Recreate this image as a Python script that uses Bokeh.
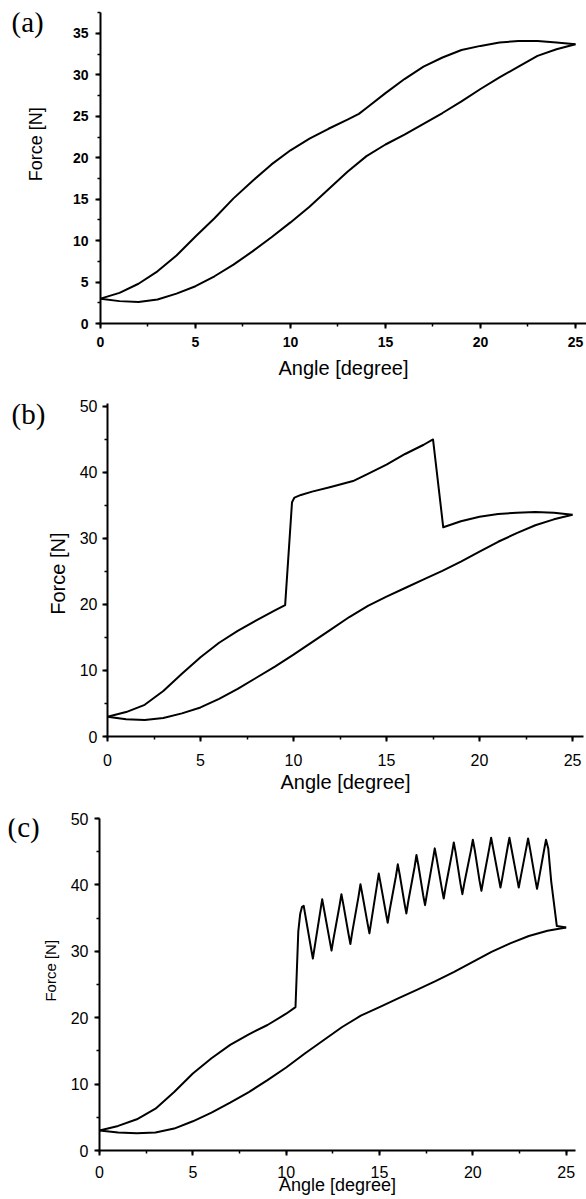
import math
from bokeh.plotting import figure
from bokeh.layouts import column, row
from bokeh.models import SingleIntervalTicker, Range1d
from bokeh.embed import file_html
from bokeh.resources import INLINE
from bokeh.core.properties import value

# ---------------- data ----------------
# (a)
a_up_x = [0, 1, 2, 3, 4, 5, 6, 7, 8, 9, 10, 11, 12, 13, 13.6, 14, 15, 16, 17, 18, 19, 20, 21, 22, 23, 24, 25]
a_up_y = [3.0, 3.7, 4.8, 6.3, 8.2, 10.5, 12.7, 15.1, 17.2, 19.2, 20.9, 22.3, 23.5, 24.6, 25.3, 26.0, 27.8, 29.5,
          31.0, 32.1, 33.0, 33.5, 33.9, 34.1, 34.1, 33.9, 33.7]
a_lo_x = [0, 1, 2, 3, 4, 5, 6, 7, 8, 9, 10, 11, 12, 13, 14, 15, 16, 17, 18, 19, 20, 21, 22, 23, 24, 25]
a_lo_y = [3.0, 2.7, 2.6, 2.9, 3.6, 4.5, 5.7, 7.1, 8.7, 10.4, 12.2, 14.1, 16.2, 18.3, 20.2, 21.6, 22.8, 24.1,
          25.4, 26.8, 28.3, 29.7, 31.0, 32.3, 33.1, 33.7]

# (b)
b_up_x = [0, 1, 2, 3, 4, 5, 6, 7, 8, 9, 9.55, 9.92, 10.05, 10.4, 11, 12, 13.2, 14, 15, 16, 17, 17.5,
          18.05, 19, 20, 21, 22, 23, 24, 25]
b_up_y = [3.0, 3.7, 4.8, 6.9, 9.5, 12.0, 14.2, 16.0, 17.6, 19.1, 19.9, 35.5, 36.2, 36.6, 37.1, 37.8, 38.7,
          39.8, 41.2, 42.8, 44.2, 45.0, 31.7, 32.6, 33.3, 33.7, 33.9, 34.0, 33.9, 33.6]
b_lo_x = [0, 1, 2, 3, 4, 5, 6, 7, 8, 9, 10, 11, 12, 13, 14, 15, 16, 17, 18, 19, 20, 21, 22, 23, 24, 25]
b_lo_y = [3.0, 2.6, 2.5, 2.8, 3.5, 4.4, 5.7, 7.2, 8.9, 10.6, 12.4, 14.3, 16.2, 18.1, 19.8, 21.2, 22.5, 23.8,
          25.1, 26.5, 28.0, 29.5, 30.8, 32.0, 32.9, 33.6]

# (c)
c_up_x = [0, 1, 2, 3, 4, 5, 6, 7, 8, 9, 10, 10.5, 10.65, 10.75, 10.85, 10.94,
          11.04, 11.33, 11.43, 11.53, 11.83, 11.93, 12.03, 12.33, 12.43, 12.53, 12.86, 12.96,
          13.06, 13.34, 13.44, 13.54, 13.88, 13.98, 14.08, 14.36, 14.46, 14.56, 14.86, 14.96,
          15.06, 15.34, 15.44, 15.54, 15.88, 15.98, 16.08, 16.34, 16.44, 16.54, 16.88, 16.98,
          17.08, 17.34, 17.44, 17.54, 17.86, 17.96, 18.06, 18.34, 18.44, 18.54, 18.88, 18.98,
          19.08, 19.34, 19.44, 19.54, 19.90, 20.00, 20.10, 20.36, 20.46, 20.56, 20.88, 20.98,
          21.08, 21.38, 21.48, 21.58, 21.86, 21.96, 22.06, 22.36, 22.46, 22.56, 22.86, 22.96,
          23.06, 23.34, 23.44, 23.54, 23.82, 23.92, 24.04, 24.2, 24.5, 25.0]
c_up_y = [3.0, 3.7, 4.7, 6.3, 8.8, 11.6, 13.9, 15.9, 17.5, 18.9, 20.6, 21.6, 33.0, 35.6, 36.7, 36.85,
          35.2, 30.5, 28.9, 30.7, 36.05, 37.85, 36.3, 31.65, 30.1, 31.8, 36.9, 38.6,
          37.1, 32.6, 31.1, 32.9, 38.3, 40.1, 38.6, 34.2, 32.7, 34.5, 39.9, 41.7,
          40.2, 35.8, 34.3, 36.1, 41.3, 43.1, 41.6, 37.2, 35.7, 37.5, 42.7, 44.5,
          43.0, 38.45, 36.95, 38.65, 43.8, 45.5, 44.0, 39.45, 37.95, 39.65, 44.7, 46.4,
          44.85, 40.15, 38.6, 40.2, 45.2, 46.8, 45.3, 40.6, 39.1, 40.7, 45.5, 47.1,
          45.6, 41.1, 39.6, 41.1, 45.6, 47.1, 45.6, 41.1, 39.6, 41.1, 45.5, 47.0,
          45.5, 40.9, 39.4, 40.9, 45.3, 46.8, 45.5, 40.5, 33.8, 33.6]
c_lo_x = [0, 1, 2, 3, 4, 5, 6, 7, 8, 9, 10, 11, 12, 13, 14, 15, 16, 17, 18, 19, 20, 21, 22, 23, 24, 25]
c_lo_y = [3.0, 2.7, 2.6, 2.7, 3.3, 4.4, 5.7, 7.2, 8.8, 10.6, 12.5, 14.6, 16.6, 18.6, 20.3, 21.6, 22.9, 24.2,
          25.5, 26.9, 28.4, 29.9, 31.2, 32.3, 33.1, 33.6]

panel_tags = ["(a)", "(b)", "(c)"]
x_title = "Angle [degree]"
y_title = "Force [N]"

SANS = "Liberation Sans"
SERIF = "Liberation Serif"


def make_gutter(width, height, tag_text, tag_left, tag_mid, ytitle_cx, ytitle_cy, ytitle_size):
    """Narrow left strip holding the panel tag and the vertical y title (pixel coordinates, top-down)."""
    g = figure(width=width, height=height, x_range=Range1d(0, width), y_range=Range1d(0, height),
               x_axis_type=None, y_axis_type=None, output_backend="svg", toolbar_location=None,
               min_border=0, min_border_left=0, min_border_right=0, min_border_top=0, min_border_bottom=0)
    g.outline_line_color = None
    g.xgrid.visible = False
    g.ygrid.visible = False
    g.background_fill_color = "white"
    g.border_fill_color = "white"
    g.text(x=[tag_left], y=[height - tag_mid], text=[tag_text],
           text_font=value(SERIF), text_font_size="29px", text_color="black",
           text_align="left", text_baseline="middle")
    g.text(x=[ytitle_cx], y=[height - ytitle_cy], text=[y_title], angle=math.pi / 2,
           text_font=value(SANS), text_font_size=f"{ytitle_size}px", text_color="black",
           text_align="center", text_baseline="middle")
    return g


def make_panel(width, height, x_end, y_end, y_step, b_left, b_right, b_top, b_bottom,
               tick_size, tick_bold, xlab_size, xl_stand, xt_stand, yt_stand):
    p = figure(width=width, height=height,
               x_range=Range1d(0, x_end), y_range=Range1d(0, y_end),
               output_backend="svg", toolbar_location=None,
               min_border_left=b_left, min_border_right=b_right,
               min_border_top=b_top, min_border_bottom=b_bottom)
    p.xgrid.visible = False
    p.ygrid.visible = False
    p.outline_line_color = None
    p.background_fill_color = "white"
    p.border_fill_color = "white"

    p.xaxis.ticker = SingleIntervalTicker(interval=5, num_minor_ticks=2)
    p.yaxis.ticker = SingleIntervalTicker(interval=y_step, num_minor_ticks=2)
    for ax in (p.xaxis, p.yaxis):
        ax.axis_line_color = "black"
        ax.axis_line_width = 2
        ax.major_tick_line_color = "black"
        ax.major_tick_line_width = 2
        ax.minor_tick_line_color = "black"
        ax.minor_tick_line_width = 1.5
        ax.major_tick_out = 5
        ax.major_tick_in = 0
        ax.minor_tick_out = 3
        ax.minor_tick_in = 0
        ax.major_label_text_font = SANS
        ax.major_label_text_font_size = f"{tick_size}px"
        ax.major_label_text_font_style = "bold" if tick_bold else "normal"
        ax.major_label_text_color = "black"
        ax.axis_label_text_font = SANS
        ax.axis_label_text_font_style = "normal"
        ax.axis_label_text_color = "black"
    p.xaxis.axis_label = x_title
    p.xaxis.axis_label_text_font_size = f"{xlab_size}px"
    p.xaxis.axis_label_standoff = xl_stand
    p.xaxis.major_label_standoff = xt_stand
    p.yaxis.major_label_standoff = yt_stand
    return p


# ---- panel (a)  (page rows 0..385)
ga = make_gutter(60, 385, panel_tags[0], 11, 12, 35, 163, 18)
pa = make_panel(526, 385, 25.58, 37.53, 5, 40, 0, 12, 62,
                14, True, 20, 7, 8, 7)
pa.line(a_up_x, a_up_y, line_color="black", line_width=2, line_join="round")
pa.line(a_lo_x, a_lo_y, line_color="black", line_width=2, line_join="round")

# ---- panel (b)  (page rows 385..800)
gb = make_gutter(72, 415, panel_tags[1], 11, 13, 57, 212, 20)
pb = make_panel(514, 415, 25.59, 50.45, 10, 35, 3, 18, 64,
                16, False, 20, 2, 12, 5)
pb.line(b_up_x, b_up_y, line_color="black", line_width=2, line_join="round")
pb.line(b_lo_x, b_lo_y, line_color="black", line_width=2, line_join="round")

# ---- panel (c)  (page rows 800..1199)
gc = make_gutter(62, 399, panel_tags[2], 7, 10, 50, 183, 15)
pc = make_panel(524, 399, 25.5, 50.0, 10, 37, 11, 18, 49,
                16, False, 18, -6, 10, 6)
pc.line(c_up_x, c_up_y, line_color="black", line_width=2, line_join="round")
pc.line(c_lo_x, c_lo_y, line_color="black", line_width=2, line_join="round")

layout = column(row(ga, pa, spacing=0), row(gb, pb, spacing=0), row(gc, pc, spacing=0), spacing=0)
open("out.html", "w").write(file_html(layout, INLINE))
